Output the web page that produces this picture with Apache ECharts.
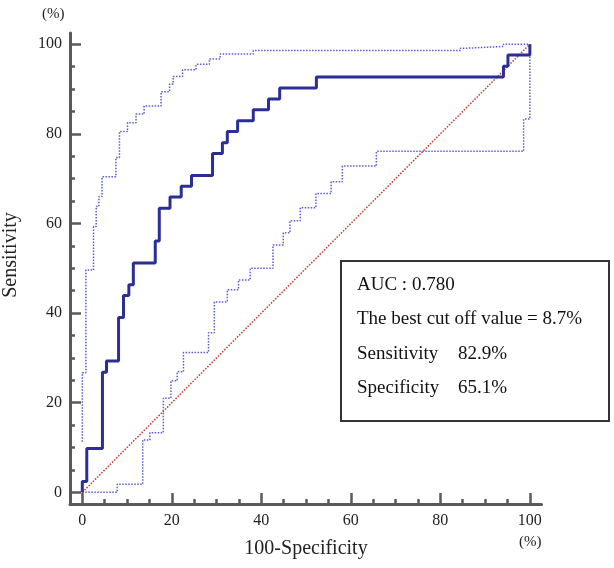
<!DOCTYPE html>
<html>
<head>
<meta charset="utf-8">
<script src="https://cdn.jsdelivr.net/npm/echarts@6/dist/echarts.min.js"></script>
<style>
html,body{margin:0;padding:0;background:#fff;}
#chart{width:614px;height:568px;}
</style>
</head>
<body>
<div id="chart"></div>
<script>
// ROC curve (step points, 100-Specificity vs Sensitivity, %)
var rocX = [0, 0, 1.0, 4.5, 5.4, 8.1, 9.2, 10.4, 11.4, 16.3, 17.2, 19.6, 22.1, 24.4, 29.1, 31.3, 32.4, 34.7, 38.2, 41.6, 44.1, 52.3, 94.1, 95.1, 100];
var rocY = [0, 2.4, 9.8, 26.8, 29.3, 39.0, 43.9, 46.3, 51.2, 56.1, 63.4, 65.9, 68.3, 70.7, 75.6, 78.0, 80.5, 82.9, 85.4, 87.8, 90.2, 92.7, 95.1, 97.6, 100];
// upper confidence band
var upperX = [0, 0, 0.8, 2.5, 3.1, 3.7, 4.4, 7.5, 8.3, 10.1, 12.0, 13.8, 17.6, 19.5, 20.3, 22.4, 25.4, 28.4, 30.8, 38.2, 84.5, 85.8, 94.1, 100];
var upperY = [11.3, 26.7, 49.6, 59.3, 63.8, 66.0, 70.4, 74.7, 80.5, 82.5, 84.4, 86.2, 89.4, 91.1, 92.8, 94.3, 95.5, 96.7, 97.8, 98.6, 99.1, 99.5, 100, 100];
// lower confidence band
var lowerX = [0, 7.8, 13.5, 15.1, 18.1, 19.8, 21.2, 22.6, 28.2, 29.5, 32.4, 34.9, 37.5, 42.6, 44.9, 46.4, 48.7, 52.2, 55.6, 58.1, 65.7, 98.6, 100];
var lowerY = [0, 1.8, 11.7, 13.3, 21.0, 24.9, 26.9, 31.2, 35.6, 42.5, 45.2, 47.4, 50.0, 55.2, 57.9, 60.6, 63.5, 66.7, 69.3, 72.8, 76.1, 83.3, 100];
// chance line
var refX = [0, 100];
var refY = [0, 100];
// ticks
var majorTicks = [0, 20, 40, 60, 80, 100];
var minorTicks = [0, 5, 10, 15, 20, 25, 30, 35, 40, 45, 50, 55, 60, 65, 70, 75, 80, 85, 90, 95, 100];
// texts
var xTitle = '100-Specificity';
var yTitle = 'Sensitivity';
var unitLabel = '(%)';
var statLines = ['AUC : 0.780', 'The best cut off value = 8.7%'];
var statNames = ['Sensitivity', 'Specificity'];
var statValues = ['82.9%', '65.1%'];

function pairs(xs, ys) { return xs.map(function (x, i) { return [x, ys[i]]; }); }

var FONT = '"Liberation Serif", "Times New Roman", serif';
var AXC = '#5a5a5a';

var chart = echarts.init(document.getElementById('chart'), null, {renderer: 'canvas'});

function mkAxis(isX, major) {
  return {
    type: 'value',
    min: isX ? -2.75 : -2.6,
    max: isX ? 102.6 : 102.5,
    gridIndex: 0,
    position: isX ? 'bottom' : 'left',
    splitLine: {show: false},
    axisLine: {show: major, onZero: false, lineStyle: {color: AXC, width: 3}},
    axisTick: {
      show: true, inside: true, length: major ? 11 : 5,
      customValues: major ? majorTicks : minorTicks,
      lineStyle: {color: AXC, width: 2.5}
    },
    axisLabel: {
      show: major, customValues: majorTicks, margin: isX ? 9 : 8,
      fontFamily: FONT, fontSize: 16, color: '#222'
    }
  };
}

var graphics = [
  {type: 'text', left: 42, top: 7, style: {text: unitLabel, font: '15px ' + FONT, fill: '#222'}},
  {type: 'text', left: 519, top: 535, style: {text: unitLabel, font: '15px ' + FONT, fill: '#222'}},
  {type: 'text', x: 306, y: 549, style: {text: xTitle, font: '20px ' + FONT, fill: '#222', align: 'center', verticalAlign: 'middle'}},
  {type: 'text', x: 11, y: 255, rotation: Math.PI / 2, style: {text: yTitle, font: '20px ' + FONT, fill: '#222', align: 'center', verticalAlign: 'middle'}},
  {type: 'rect', shape: {x: 341, y: 261, width: 268, height: 160}, style: {fill: '#fff', stroke: '#333', lineWidth: 2}, z: 10}
];
statLines.forEach(function (t, i) {
  graphics.push({type: 'text', x: 357, y: 285 + i * 34.5, z: 11, style: {text: t, font: '19px ' + FONT, fill: '#111', verticalAlign: 'middle'}});
});
statNames.forEach(function (t, i) {
  graphics.push({type: 'text', x: 357, y: 354 + i * 34, z: 11, style: {text: t, font: '19px ' + FONT, fill: '#111', verticalAlign: 'middle'}});
  graphics.push({type: 'text', x: 458, y: 354 + i * 34, z: 11, style: {text: statValues[i], font: '19px ' + FONT, fill: '#111', verticalAlign: 'middle'}});
});

chart.setOption({
  animation: false,
  backgroundColor: '#fff',
  grid: {left: 70, right: 72.5, top: 33, bottom: 64, containLabel: false},
  xAxis: [mkAxis(true, true), mkAxis(true, false)],
  yAxis: [mkAxis(false, true), mkAxis(false, false)],
  graphic: graphics,
  series: [
    {type: 'line', name: 'upper', data: pairs(upperX, upperY), step: 'end', showSymbol: false,
     lineStyle: {color: '#5a5cd0', width: 1.5, type: [1.5, 1.5]}, z: 2},
    {type: 'line', name: 'lower', data: pairs(lowerX, lowerY), step: 'end', showSymbol: false,
     lineStyle: {color: '#5a5cd0', width: 1.5, type: [1.5, 1.5]}, z: 2},
    {type: 'line', name: 'chance', data: pairs(refX, refY), showSymbol: false,
     lineStyle: {color: '#c0392b', width: 1.5, type: [1.5, 1.5]}, z: 3},
    {type: 'line', name: 'ROC', data: pairs(rocX, rocY), step: 'end', showSymbol: false,
     lineStyle: {color: '#2b2f95', width: 3}, z: 4}
  ]
});
</script>
</body>
</html>
